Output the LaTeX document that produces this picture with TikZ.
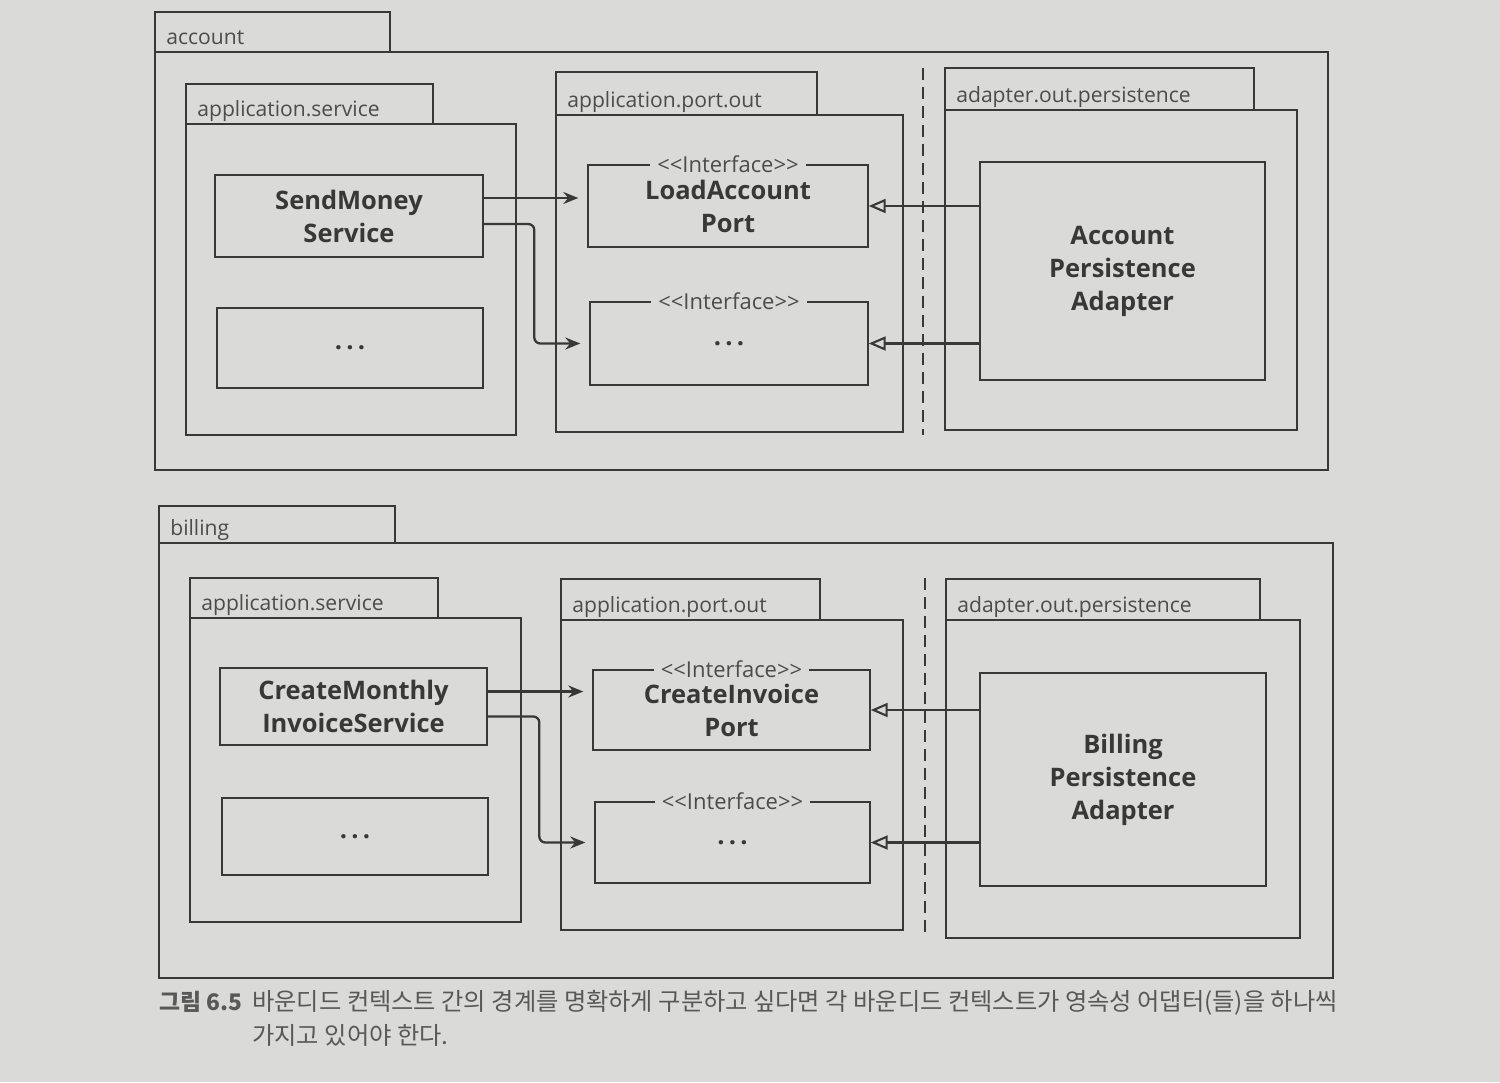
\documentclass[tikz,border=0pt]{standalone}
\usepackage{fontspec}
\setmainfont{Open Sans}
\newfontfamily\krfont{Noto Sans CJK KR}
\usepackage{tikz}
\usetikzlibrary{calc}
\usetikzlibrary{arrows.meta}

\definecolor{pagebg}{RGB}{218,218,216}
\definecolor{ink}{RGB}{56,56,56}
\definecolor{labelink}{RGB}{76,76,76}
\definecolor{capink}{RGB}{88,88,88}

\begin{document}
\begin{tikzpicture}[
  x=0.02cm, y=-0.02cm,
  >=Stealth,
  pkgline/.style={draw=ink, line width=1.6pt},
  pkglabel/.style={anchor=base west, text=labelink, inner sep=0pt,
    font=\fontsize{12}{14}\selectfont},
  classbox/.style={draw=ink, line width=0.8pt, align=center, text=ink, inner sep=0pt,
    font=\fontsize{14.5}{18.8}\selectfont\bfseries},
  wh/.style 2 args={minimum width=#1*0.02cm, minimum height=#2*0.02cm},
  stereo/.style={fill=pagebg, text=labelink, inner xsep=4pt, inner ysep=0pt,
    font=\fontsize{12.5}{14}\selectfont},
  uses/.style={-{Stealth[length=3mm, width=2.4mm]}, draw=ink, line width=1.3pt,
    shorten >=0.18cm},
  realizes/.style={-{Triangle[open, length=3.4mm, width=2.8mm]}, draw=ink,
    line width=1.2pt},
  boundary/.style={draw=ink, line width=1.3pt, dash pattern=on 0.24cm off 0.14cm},
  caption/.style={anchor=base west, text=capink, inner sep=0pt,
    font=\krfont\fontsize{13.8}{16}\selectfont}
]

% ----- halaman -----
\fill[pagebg] (0,0) rectangle (1500,1082);
\useasboundingbox (0,0) rectangle (1500,1082);

% ----- paket: tab + badan -----
\foreach \i/\xl/\yt/\xt/\yb/\xr/\ybot/\pname in {
    1/155/12/390/52/1328/470/account,
    2/186/84/433/124/516/435/application.service,
    3/556/72/817/115/903/432/application.port.out,
    4/945/68/1254/110/1297/430/adapter.out.persistence,
    5/159/506/395/543/1333/978/billing,
    6/190/578/438/618/521/922/application.service,
    7/561/579/820/620/903/930/application.port.out,
    8/946/579/1260/620/1300/938/adapter.out.persistence} {
  \draw[pkgline] (\xl,\yt) rectangle (\xt,\yb);
  \draw[pkgline] (\xl,\yb) rectangle (\xr,\ybot);
  \node[pkglabel] (pkg\i) at (\xl+11,\yb-8) {\pname};
}

% ----- batas konteks (garis putus-putus) -----
\draw[boundary] (923,68) -- (923,435);
\draw[boundary] (925,578) -- (925,935);

% ----- account -----
\node[classbox, wh={268}{82}]  (sendsvc)    at (349,216)    {SendMoney\\Service};
\node[classbox, wh={266}{80}]  (svcmore)    at (350,348)    {.\,.\,.};
\node[classbox, wh={280}{82}]  (loadport)   at (728,206)    {LoadAccount\\Port};
\node[classbox, wh={278}{83}]  (portmore)   at (729,343.5)  {.\,.\,.};
\node[classbox, wh={285}{218}] (accadapter) at (1122.5,271) {Account\\Persistence\\Adapter};
\node[stereo] (loadportst) at (loadport.north) {{<}{<}Interface{>}{>}};
\node[stereo] (portmorest) at (portmore.north) {{<}{<}Interface{>}{>}};

% ----- billing -----
\node[classbox, wh={267}{77}]  (createsvc)    at (353.5,706.5) {CreateMonthly\\InvoiceService};
\node[classbox, wh={266}{77}]  (billsvcmore)  at (355,836.5)   {.\,.\,.};
\node[classbox, wh={277}{80}]  (invport)      at (731.5,710)   {CreateInvoice\\Port};
\node[classbox, wh={275}{81}]  (billportmore) at (732.5,842.5) {.\,.\,.};
\node[classbox, wh={286}{213}] (billadapter)  at (1123,779.5)  {Billing\\Persistence\\Adapter};
\node[stereo] (invportst)      at (invport.north)      {{<}{<}Interface{>}{>}};
\node[stereo] (billportmorest) at (billportmore.north) {{<}{<}Interface{>}{>}};

% ----- service -> port -----
\coordinate (s1) at ($(sendsvc.east)+(0,-18)$);
\coordinate (s2) at ($(sendsvc.east)+(0,8)$);
\draw[uses] (s1) -- (s1 -| loadport.west);
\draw[uses, rounded corners=1.2mm] (s2) -| ($(portmore.west)+(-55,0)$) -- (portmore.west);

\coordinate (c1) at ($(createsvc.east)+(0,-15)$);
\coordinate (c2) at ($(createsvc.east)+(0,10)$);
\draw[uses] (c1) -- (c1 -| invport.west);
\draw[uses, rounded corners=1.2mm] (c2) -| ($(billportmore.west)+(-55,0)$) -- (billportmore.west);

% ----- adapter mengimplementasikan port -----
\draw[realizes] (loadport.east -| accadapter.west) -- (loadport.east);
\draw[realizes] (portmore.east -| accadapter.west) -- (portmore.east);
\draw[realizes] (invport.east -| billadapter.west) -- (invport.east);
\draw[realizes] (billportmore.east -| billadapter.west) -- (billportmore.east);

% ----- keterangan gambar -----
\node[caption, font=\krfont\bfseries\fontsize{13}{16}\selectfont] (capnum) at (159,1010) {그림 6.5};
\node[caption] (capline1) at (252,1010) {바운디드 컨텍스트 간의 경계를 명확하게 구분하고 싶다면 각 바운디드 컨텍스트가 영속성 어댑터(들)을 하나씩};
\node[caption] (capline2) at (252,1044) {가지고 있어야 한다.};
\end{tikzpicture}
\end{document}
